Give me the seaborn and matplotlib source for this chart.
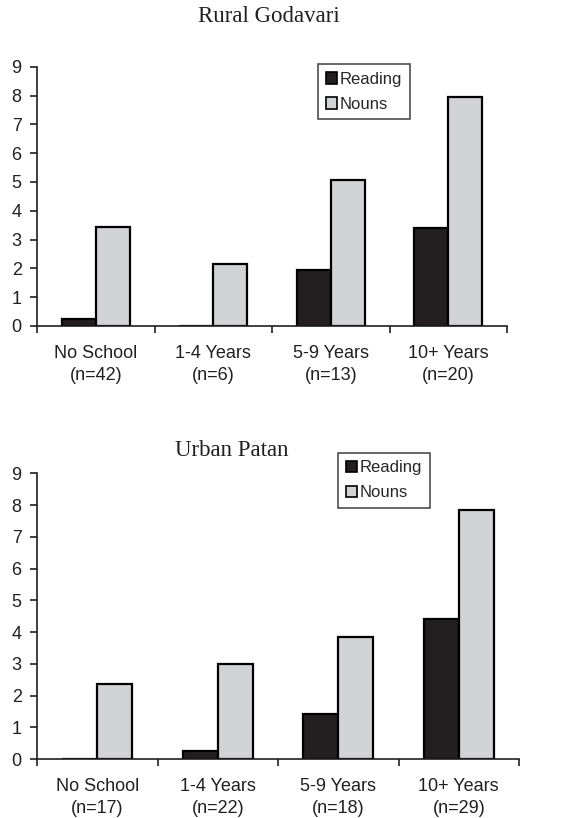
import matplotlib
matplotlib.use("Agg")
import matplotlib.pyplot as plt
import seaborn as sns
import pandas as pd
from matplotlib.patches import Patch

categories = ["No School", "1-4 Years", "5-9 Years", "10+ Years"]
rural_n = ["(n=42)", "(n=6)", "(n=13)", "(n=20)"]
urban_n = ["(n=17)", "(n=22)", "(n=18)", "(n=29)"]
series = ["Reading", "Nouns"]
rural_reading = [0.25, 0.0, 1.93, 3.41]
rural_nouns = [3.43, 2.16, 5.08, 7.94]
urban_reading = [0.0, 0.25, 1.41, 4.40]
urban_nouns = [2.36, 2.99, 3.83, 7.84]
yticks = list(range(0, 10))

colors = {"Reading": "#231f20", "Nouns": "#d1d3d4"}

sns.set_style("white")
plt.rcParams["font.family"] = ["Liberation Sans", "DejaVu Sans"]

fig = plt.figure(figsize=(5.77, 8.18), dpi=100)

def make_df(reading, nouns):
    rows = []
    for c, r, n in zip(categories, reading, nouns):
        rows.append({"cat": c, "series": "Reading", "value": r})
        rows.append({"cat": c, "series": "Nouns", "value": n})
    return pd.DataFrame(rows)

def draw(ax, reading, nouns, nlabels, leg_anchor):
    df = make_df(reading, nouns)
    sns.barplot(data=df, x="cat", y="value", hue="series", order=categories,
                hue_order=series, palette=colors, width=0.58, gap=0,
                edgecolor="black", linewidth=1.6, ax=ax, legend=False,
                saturation=1)
    ax.set_xlim(-0.5, 3.5)
    ax.set_ylim(0, 9)
    ax.set_yticks(yticks)
    ax.set_xlabel("")
    ax.set_ylabel("")
    ax.set_xticks(range(4))
    ax.set_xticklabels([f"{c}\n{n}" for c, n in zip(categories, nlabels)],
                       linespacing=1.42)
    ax.set_xticks([-0.5, 0.5, 1.5, 2.5, 3.5], minor=True)
    ax.tick_params(axis="x", which="major", length=0, pad=13.5, labelsize=13,
                   colors="#231f20")
    ax.tick_params(axis="x", which="minor", length=5, width=1.2,
                   direction="out", bottom=True, color="#231f20")
    ax.tick_params(axis="y", length=5, width=1.2, direction="out", left=True,
                   pad=6, labelsize=13, colors="#231f20")
    for s in ["top", "right"]:
        ax.spines[s].set_visible(False)
    for s in ["left", "bottom"]:
        ax.spines[s].set_color("#231f20")
        ax.spines[s].set_linewidth(1.2)
    handles = [Patch(facecolor=colors[s], edgecolor="black", linewidth=1.2, label=s)
               for s in series]
    leg = ax.legend(handles=handles, loc="upper left", bbox_to_anchor=leg_anchor,
                    borderaxespad=0, fancybox=False, frameon=True,
                    edgecolor="#231f20", fontsize=12, handlelength=0.7,
                    handleheight=0.7, handletextpad=0.15, labelspacing=0.6,
                    borderpad=0.45)
    leg.get_frame().set_linewidth(1.2)

ax1 = fig.add_axes([37/577, 1-326/818, 470/577, (326-66.7)/818])
draw(ax1, rural_reading, rural_nouns, rural_n, (0.598, 1.01))

ax2 = fig.add_axes([37/577, 1-759/818, 482/577, (759-473.3)/818])
draw(ax2, urban_reading, urban_nouns, urban_n, (0.6245, 1.072))

fig.text(269/577, 1-17/818, "Rural Godavari", ha="center", va="center",
         family=["Liberation Serif", "DejaVu Serif"], fontsize=16.5, color="#231f20")
fig.text(232/577, 1-450/818, "Urban Patan", ha="center", va="center",
         family=["Liberation Serif", "DejaVu Serif"], fontsize=16.5, color="#231f20")

fig.savefig("out.png", dpi=100)
